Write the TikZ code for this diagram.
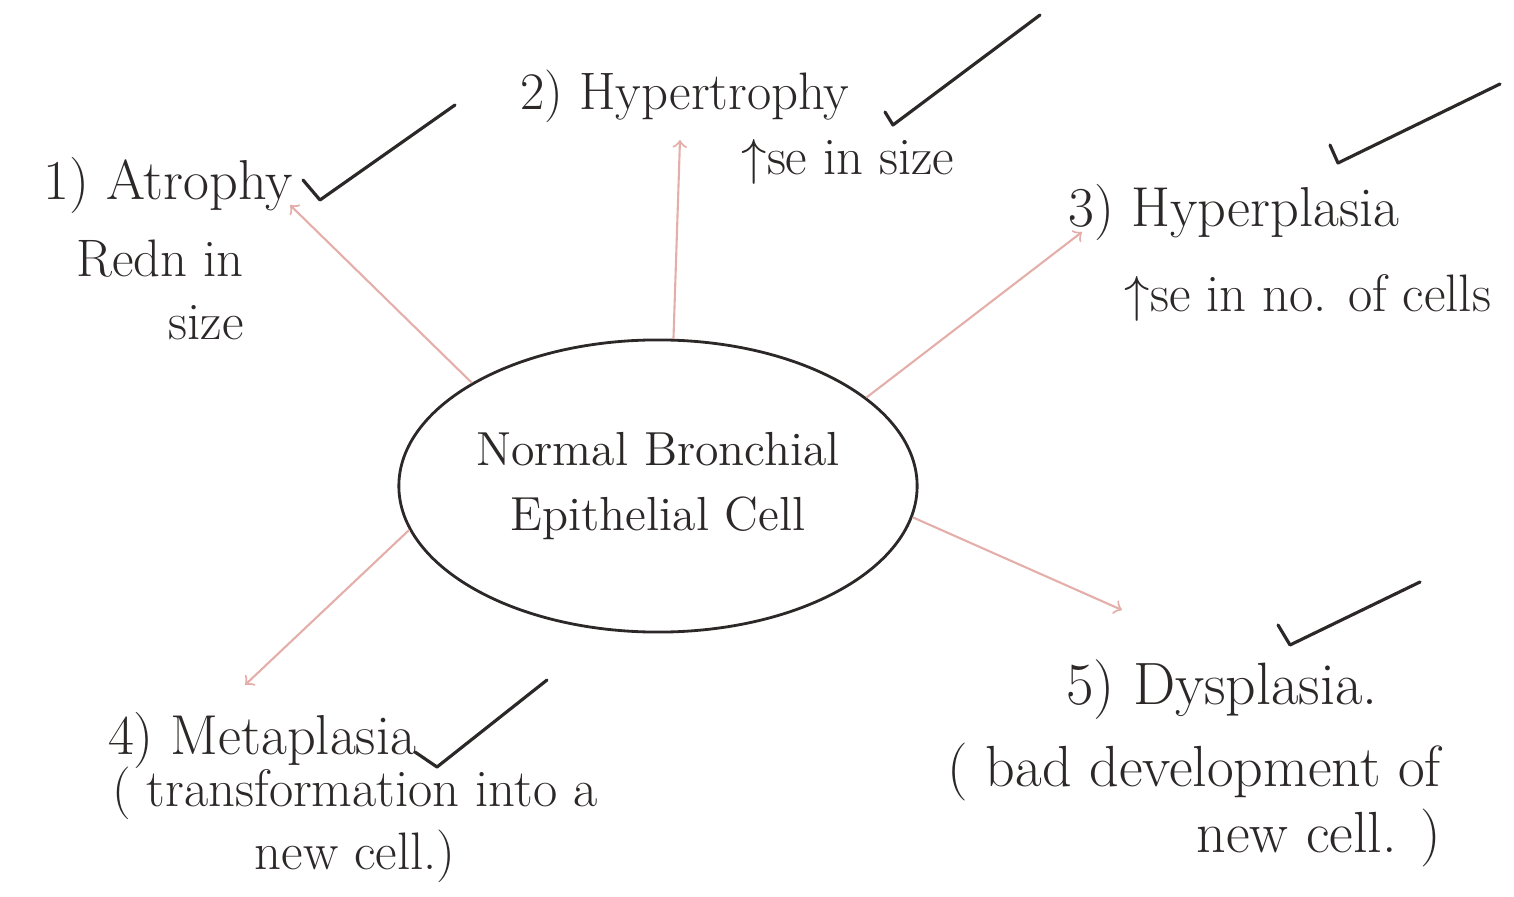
\documentclass[tikz,border=0pt]{standalone}
\usetikzlibrary{positioning,shapes.geometric,arrows,calc}
\definecolor{ink}{RGB}{45,40,40}
\definecolor{redpen}{RGB}{228,175,170}

\begin{document}
\begin{tikzpicture}[x=0.01cm,y=-0.01cm]
	\tikzset{
	    stage/.style={font=\fontsize{16}{19}\selectfont, text=ink, inner sep=1pt},
	    detail/.style={font=\fontsize{15}{18}\selectfont, text=ink, inner sep=1pt},
	    okmark/.style={draw=ink, line width=0.9pt, line cap=round, line join=round},
	    faint/.style={->, draw=redpen, line width=0.6pt}
	}
	\useasboundingbox (0,0) rectangle (1514,897);

	\node[ellipse, draw=ink, line width=0.8pt, inner sep=0pt, minimum width=5.18cm, minimum height=2.92cm,
	      align=center, font=\fontsize{13.6}{18.5}\selectfont, text=ink] (cell) at (658,486)
	      {Normal Bronchial\\Epithelial Cell};

	\node[stage] (atrophy) at (168,185) {1) Atrophy};
	\node[detail, align=right, anchor=east] (atrophytxt) at (248,290) {Redn in\\size};

	\node[stage, font=\fontsize{15}{18}\selectfont] (hypertrophy) at (685,96) {2) Hypertrophy};
	\node[detail] (hypertrophytxt) at (848,162) {$\uparrow$se in size};

	\node[stage] (hyperplasia) at (1234,212) {3) Hyperplasia};
	\node[detail] (hyperplasiatxt) at (1308,298) {$\uparrow$se in no. of cells};

	\node[stage] (metaplasia) at (262,740) {4) Metaplasia};
	\node[detail, align=center] (metaplasiatxt) at (355,825) {( transformation into a\\new cell.)};

	\node[stage, font=\fontsize{17}{20}\selectfont] (dysplasia) at (1222,690) {5) Dysplasia.};
	\node[detail, align=right, anchor=east, font=\fontsize{16.5}{19}\selectfont] (dysplasiatxt) at (1445,805) {( bad development of\\new cell. )};

	\coordinate (tip1) at (290,205);
	\coordinate (tip2) at (680,140);
	\coordinate (tip3) at (1082,232);
	\coordinate (tip4) at (245,685);
	\coordinate (tip5) at (1122,610);

	\draw[faint] (cell.151) -- (tip1);
	\draw[faint] (cell.84) -- (tip2);
	\draw[faint] (cell.23) -- (tip3);
	\draw[faint] (cell.190) -- (tip4);
	\draw[faint] (cell.-7) -- (tip5);

	% ticks
	\draw[okmark] (303,180) -- (320,200) -- (455,105);
	\draw[okmark] (885,112) -- (893,125) -- (1040,15);
	\draw[okmark] (1330,145) -- (1338,163) -- (1500,84);
	\draw[okmark] (415,752) -- (437,767) -- (547,680);
	\draw[okmark] (1278,625) -- (1290,645) -- (1420,582);
\end{tikzpicture}
\end{document}
